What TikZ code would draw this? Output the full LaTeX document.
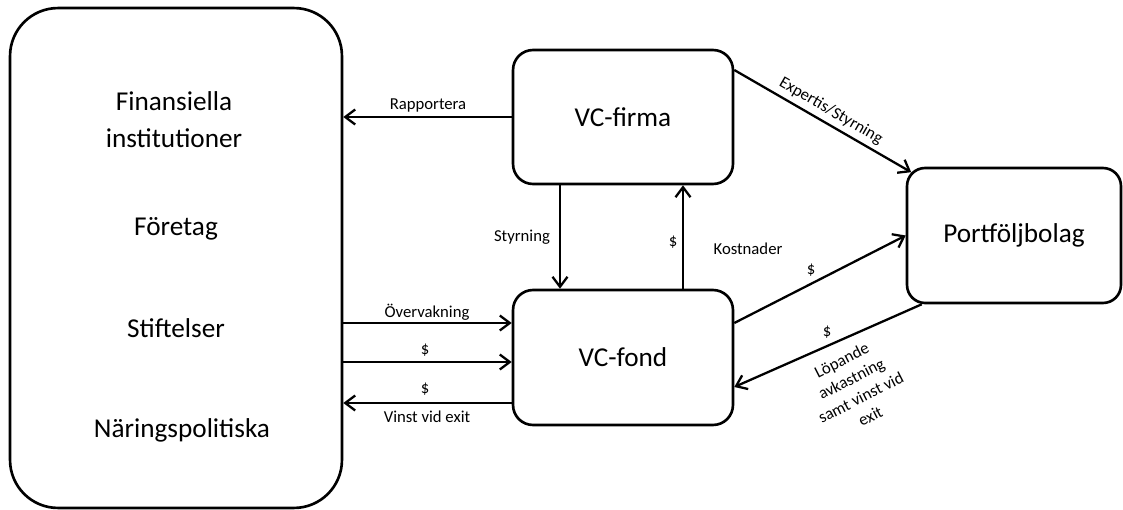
\documentclass[tikz,border=0pt]{standalone}
\usepackage{fontspec}
\setmainfont{Carlito}
\usetikzlibrary{arrows.meta}
\begin{document}
\begin{tikzpicture}[x=0.02cm,y=-0.02cm,
  box/.style={draw,line width=1.5pt,rectangle,rounded corners=0.4cm,inner sep=0pt,font=\fontsize{15.5}{21}\selectfont},
  big/.style={font=\fontsize{15.5}{21}\selectfont,align=center,inner sep=0pt},
  lbl/.style={font=\fontsize{9.5}{12}\selectfont,align=center,inner sep=1pt},
  arr/.style={line width=1.3pt,-{Straight Barb[length=2mm,width=3mm,line width=1.3pt]}}]
\useasboundingbox (0,0) rectangle (1123,510);
% boxes
\node[box,rounded corners=0.96cm,minimum width=6.64cm,minimum height=10cm] (left) at (176,258) {};
\node[box,minimum width=4.4cm,minimum height=2.68cm] (vcfirma) at (623,117) {VC-firma};
\node[box,minimum width=4.4cm,minimum height=2.7cm] (vcfond) at (623,357.5) {VC-fond};
\node[box,rounded corners=0.36cm,minimum width=4.28cm,minimum height=2.7cm] (port) at (1014,235.5) {Portföljbolag};
% texts in left box
\node[big] (t1) at (174,120) {Finansiella\\institutioner};
\node[big] (t2) at (176,229) {Företag};
\node[big] (t3) at (176,328) {Stiftelser};
\node[big] (t4) at (182,430) {Näringspolitiska};
% helper coordinates
\coordinate (o1) at ([yshift=0.69cm]vcfond.west);
\coordinate (o2) at ([yshift=-0.09cm]vcfond.west);
\coordinate (o3) at ([yshift=-0.91cm]vcfond.west);
% connectors
\draw[arr] (vcfirma.west) -- (left.east |- vcfirma.west);
\draw[arr] (left.east |- o1) -- (o1);
\draw[arr] (left.east |- o2) -- (o2);
\draw[arr] (o3) -- (left.east |- o3);
\draw[arr] ([xshift=-1.26cm]vcfirma.south) -- ([xshift=-1.26cm]vcfond.north);
\draw[arr] ([xshift=1.2cm]vcfond.north) -- ([xshift=1.2cm]vcfirma.south);
\draw[arr] ([yshift=0.94cm]vcfirma.east) -- ([xshift=0.11cm,yshift=-0.11cm]port.north west)
  node[lbl,sloped,above=1.5pt,pos=0.51] (l11) {Expertis/Styrning};
\draw[arr] ([yshift=0.69cm]vcfond.east) -- (port.west);
\draw[arr] ([xshift=0.32cm]port.south west) -- ([yshift=-0.59cm]vcfond.east);
% labels
\node[lbl] (l1) at (428,105) {Rapportera};
\node[lbl] (l2) at (427,312) {Övervakning};
\node[lbl] (l3) at (425,350) {\$};
\node[lbl] (l4) at (425,389) {\$};
\node[lbl] (l5) at (427,417) {Vinst vid exit};
\node[lbl] (l6) at (522,237) {Styrning};
\node[lbl] (l7) at (673,242) {\$};
\node[lbl] (l8) at (748,249) {Kostnader};
\node[lbl] (l9) at (811,270) {\$};
\node[lbl] (l10) at (827,332) {\$};
\node[lbl,rotate=27] (l12) at (856,388) {Löpande\\avkastning\\samt vinst vid\\exit};
\end{tikzpicture}
\end{document}
